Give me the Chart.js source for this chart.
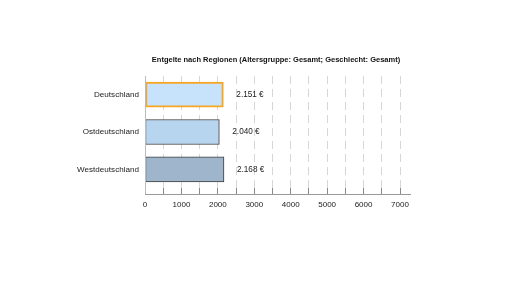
<!DOCTYPE html>
<html><head><meta charset="utf-8">
<script src="https://cdn.jsdelivr.net/npm/chart.js@4"></script>
<style>html,body{margin:0;padding:0;background:#fff}#w{width:516px;height:290px}</style>
</head><body><div id="w"><canvas id="c" width="516" height="290"></canvas></div>
<script>
const categories = ["Deutschland", "Ostdeutschland", "Westdeutschland"];
const values = [2151, 2040, 2168];
const valueLabels = ["2.151 €", "2.040 €", "2.168 €"];
const tickLabels = ["0","1000","2000","3000","4000","5000","6000","7000"];
const title = "Entgelte nach Regionen (Altersgruppe: Gesamt; Geschlecht: Gesamt)";
const fills = ["rgb(199,227,251)", "rgb(184,213,239)", "rgb(158,181,204)"];
const borders = ["rgb(245,166,35)", "rgb(60,60,60)", "rgb(60,60,60)"];
const borderW = [2, 1, 1];

const FONT = "'Liberation Sans', Arial, sans-serif";

const extras = {
  id: 'extras',
  afterDatasetsDraw(chart) {
    const ctx = chart.ctx;
    const ca = chart.chartArea;
    ctx.save();
    // title
    ctx.fillStyle = '#111';
    ctx.font = "bold 7.5px " + FONT;
    ctx.textAlign = 'center';
    ctx.textBaseline = 'middle';
    ctx.fillText(title, 276, 60);
    // axis line
    ctx.strokeStyle = '#999';
    ctx.lineWidth = 1;
    ctx.beginPath();
    ctx.moveTo(ca.left, ca.bottom + 6.5);
    ctx.lineTo(ca.right + 11, ca.bottom + 6.5);
    ctx.stroke();
    // y axis line
    ctx.strokeStyle = '#bbb';
    ctx.beginPath();
    ctx.moveTo(ca.left + 0.5, ca.top);
    ctx.lineTo(ca.left + 0.5, ca.bottom + 6);
    ctx.stroke();
    // value labels
    const meta = chart.getDatasetMeta(0);
    ctx.fillStyle = '#222';
    ctx.font = "8.2px " + FONT;
    ctx.textAlign = 'left';
    ctx.textBaseline = 'middle';
    meta.data.forEach((bar, i) => {
      ctx.fillText(valueLabels[i], bar.x + 13, bar.y);
    });
    ctx.restore();
  }
};

new Chart(document.getElementById('c'), {
  type: 'bar',
  data: {
    labels: categories,
    datasets: [{
      data: values,
      backgroundColor: fills,
      borderColor: borders,
      borderWidth: borderW,
      borderSkipped: false,
      barThickness: 25
    }]
  },
  options: {
    indexAxis: 'y',
    responsive: false,
    animation: false,
    layout: { padding: { left: 65, right: 116, top: 76, bottom: 72 } },
    plugins: {
      legend: { display: false },
      tooltip: { enabled: false },
      title: { display: false }
    },
    scales: {
      x: {
        min: 0, max: 7000,
        afterFit(scale) { scale.height = 30; },
        ticks: {
          stepSize: 500,
          maxTicksLimit: 100,
          autoSkip: false,
          maxRotation: 0,
          minRotation: 0,
          color: '#222',
          padding: 6,
          font: { family: FONT, size: 8 },
          callback(v) {
            return v % 1000 === 0 ? tickLabels[v / 1000] : '';
          }
        },
        grid: {
          color(ctx) { return ctx.tick && ctx.tick.value === 0 ? 'rgba(0,0,0,0)' : '#d6d6d6'; },
          lineWidth: 1,
          drawTicks: true,
          tickLength: 6,
          tickColor: '#8a8a8a'
        },
        border: { display: false, dash: [8, 5] }
      },
      y: {
        afterFit(scale) { scale.width = 80; },
        ticks: {
          color: '#222',
          padding: 6,
          font: { family: FONT, size: 8.1 }
        },
        grid: { display: false, drawTicks: false },
        border: { display: false }
      }
    }
  },
  plugins: [extras]
});
</script>
</body></html>
